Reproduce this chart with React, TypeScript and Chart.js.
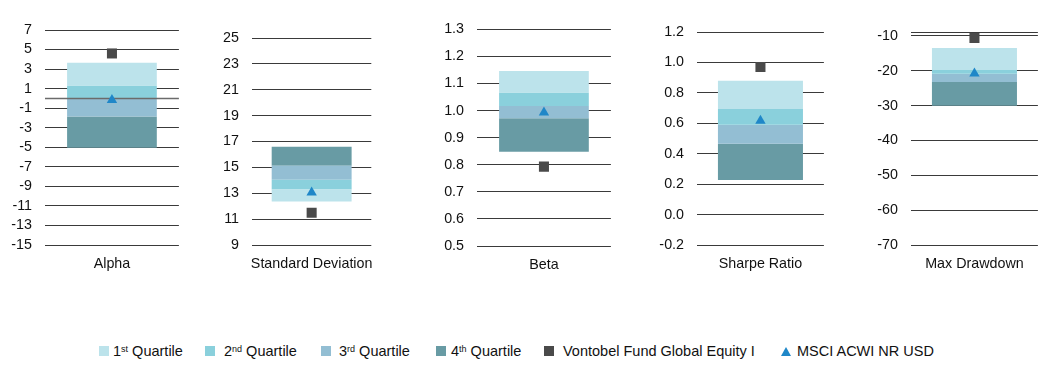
import React, { useEffect, useRef } from 'react';
import { Chart, registerables } from 'chart.js';

Chart.register(...registerables);

// ---------- DATA ----------
const metrics = ['Alpha', 'Standard Deviation', 'Beta', 'Sharpe Ratio', 'Max Drawdown'];
// quartile bands [low, high] per metric
const q1Ranges = [[1.33, 3.65], [12.36, 13.29], [1.067, 1.146], [0.695, 0.88], [-19.8, -13.5]];
const q2Ranges = [[0.0, 1.33], [13.29, 14.05], [1.017, 1.067], [0.591, 0.695], [-20.9, -19.8]];
const q3Ranges = [[-1.85, 0.0], [14.05, 15.13], [0.972, 1.017], [0.466, 0.591], [-23.2, -20.9]];
const q4Ranges = [[-5.05, -1.85], [15.13, 16.6], [0.848, 0.972], [0.228, 0.466], [-30, -23.2]];
const fundValues = [4.6, 11.5, 0.793, 0.97, -10.6];
const benchmarkValues = [-0.15, 13.05, 0.993, 0.618, -20.8];
// y-axis tick values per metric
const alphaTicks = [7, 5, 3, 1, -1, -3, -5, -7, -9, -11, -13, -15];
const stdDevTicks = [25, 23, 21, 19, 17, 15, 13, 11, 9];
const betaTicks = [1.3, 1.2, 1.1, 1.0, 0.9, 0.8, 0.7, 0.6, 0.5];
const sharpeTicks = [1.2, 1.0, 0.8, 0.6, 0.4, 0.2, 0.0, -0.2];
const drawdownTicks = [-9, -10, -20, -30, -40, -50, -60, -70];
const tickSets = [alphaTicks, stdDevTicks, betaTicks, sharpeTicks, drawdownTicks];
const tickDecimals = [0, 0, 1, 1, 0];
const unlabeledTicks = [[], [], [], [], [-9]];
const seriesNames = ['1st Quartile', '2nd Quartile', '3rd Quartile', '4th Quartile', 'Vontobel Fund Global Equity I', 'MSCI ACWI NR USD'];

// ---------- STYLE / LAYOUT ----------
const C_Q1 = '#bce3eb';
const C_Q2 = '#8ad0dc';
const C_Q3 = '#93bed3';
const C_Q4 = '#689ba4';
const C_FUND = '#4a4a4a';
const C_BENCH = '#1f87c8';
const FONT = "'Liberation Sans', Arial, sans-serif";
const TICK_SIZE = 14.3;

const gridLeft = [45, 252, 477, 697, 911];
const gridRight = [182, 382, 614, 827, 1041];
const gridTop = [30, 38, 29.3, 32, 32.3];
const gridBottom = [245, 245, 246, 245.3, 245.3];
const YW = 44;
const CANVAS_H = 290;
const XPAD = 10;
const X_AXIS_H = TICK_SIZE * 1.2 + XPAD + 10;

const zeroLinePlugin = {
  id: 'zeroLine',
  afterDatasetDraw(chart: any, args: any) {
    if (!chart.options.plugins.zeroLine || !chart.options.plugins.zeroLine.enabled) return;
    if (args.index !== 2) return;
    const y = Math.round(chart.scales.y.getPixelForValue(0)) + 0.5;
    const ctx = chart.ctx;
    ctx.save();
    ctx.strokeStyle = '#6b6b6b';
    ctx.lineWidth = 1.5;
    ctx.beginPath();
    ctx.moveTo(chart.chartArea.left, y);
    ctx.lineTo(chart.chartArea.right, y);
    ctx.stroke();
    ctx.restore();
  },
};

function Panel({ i }: { i: number }) {
  const ref = useRef<HTMLCanvasElement>(null);
  const width = YW + (gridRight[i] - gridLeft[i]) + 4;
  useEffect(() => {
    if (!ref.current) return;
    const ticks = tickSets[i];
    const chart = new Chart(ref.current, {
      type: 'bar',
      data: {
        labels: [metrics[i]],
        datasets: [
          {
            type: 'line',
            label: seriesNames[5],
            data: [benchmarkValues[i]],
            showLine: false,
            pointStyle: 'triangle',
            pointRadius: 6,
            pointBackgroundColor: C_BENCH,
            pointBorderWidth: 0,
            order: 0,
          } as any,
          {
            type: 'line',
            label: seriesNames[4],
            data: [fundValues[i]],
            showLine: false,
            pointStyle: 'rect',
            pointRadius: 7.1,
            pointBackgroundColor: C_FUND,
            pointBorderWidth: 0,
            order: 0,
          } as any,
          { label: seriesNames[0], data: [q1Ranges[i]], backgroundColor: C_Q1, order: 1 } as any,
          { label: seriesNames[1], data: [q2Ranges[i]], backgroundColor: C_Q2, order: 1 } as any,
          { label: seriesNames[2], data: [q3Ranges[i]], backgroundColor: C_Q3, order: 1 } as any,
          { label: seriesNames[3], data: [q4Ranges[i]], backgroundColor: C_Q4, order: 1 } as any,
        ],
      },
      options: {
        animation: false,
        responsive: false,
        maintainAspectRatio: false,
        devicePixelRatio: 1,
        layout: {
          padding: {
            top: gridTop[i],
            bottom: CANVAS_H - gridBottom[i] - X_AXIS_H,
            left: 0,
            right: 4,
          },
        },
        datasets: {
          bar: {
            grouped: false,
            categoryPercentage: 1,
            barPercentage: 0.67,
            borderWidth: 0,
          },
        } as any,
        scales: {
          x: {
            grid: { display: false, drawTicks: false },
            border: { display: false },
            ticks: {
              padding: XPAD,
              color: '#111',
              font: { family: FONT, size: TICK_SIZE },
              maxRotation: 0,
              autoSkip: false,
            },
          },
          y: {
            min: ticks[ticks.length - 1],
            max: ticks[0],
            afterBuildTicks: (scale: any) => {
              scale.ticks = ticks.slice().reverse().map((v) => ({ value: v }));
            },
            afterFit: (scale: any) => {
              scale.width = YW;
            },
            grid: { color: '#3a3a3a', lineWidth: 1, drawTicks: false },
            border: { display: false },
            ticks: {
              padding: 13,
              color: '#111',
              font: { family: FONT, size: TICK_SIZE },
              autoSkip: false,
              callback: (v: any) =>
                unlabeledTicks[i].includes(Number(v)) ? '' : Number(v).toFixed(tickDecimals[i]),
            },
          },
        },
        plugins: {
          legend: { display: false },
          tooltip: { enabled: false },
          zeroLine: { enabled: i === 0 },
        } as any,
      },
      plugins: [zeroLinePlugin],
    });
    return () => chart.destroy();
  }, [i]);
  return (
    <canvas
      ref={ref}
      width={width}
      height={CANVAS_H}
      style={{ position: 'absolute', left: gridLeft[i] - YW, top: 0, width, height: CANVAS_H }}
    />
  );
}

const legendItems = [
  { swatch: C_Q1, kind: 'sq', x: 99, tx: 113, main: '1', sup: 'st', rest: ' Quartile' },
  { swatch: C_Q2, kind: 'sq', x: 205, tx: 224, main: '2', sup: 'nd', rest: ' Quartile' },
  { swatch: C_Q3, kind: 'sq', x: 321, tx: 339, main: '3', sup: 'rd', rest: ' Quartile' },
  { swatch: C_Q4, kind: 'sq', x: 436, tx: 451, main: '4', sup: 'th', rest: ' Quartile' },
  { swatch: C_FUND, kind: 'sq', x: 544, tx: 563, main: seriesNames[4], sup: '', rest: '' },
  { swatch: C_BENCH, kind: 'tri', x: 781, tx: 797, main: seriesNames[5], sup: '', rest: '' },
];

export default function App() {
  return (
    <div style={{ position: 'absolute', left: 0, top: 0, width: 1057, height: 388, background: '#fff', fontFamily: FONT }}>
      {[0, 1, 2, 3, 4].map((i) => (
        <Panel key={i} i={i} />
      ))}
      {legendItems.map((it, k) => (
        <React.Fragment key={k}>
          {it.kind === 'sq' ? (
            <div style={{ position: 'absolute', left: it.x, top: 346, width: 10, height: 10, background: it.swatch }} />
          ) : (
            <div
              style={{
                position: 'absolute',
                left: it.x,
                top: 347,
                width: 0,
                height: 0,
                borderLeft: '5px solid transparent',
                borderRight: '5px solid transparent',
                borderBottom: '9px solid ' + it.swatch,
              }}
            />
          )}
          <div
            style={{
              position: 'absolute',
              left: it.tx,
              top: 343,
              fontSize: 14.5,
              lineHeight: '17px',
              color: '#111',
              whiteSpace: 'nowrap',
            }}
          >
            {it.main}
            {it.sup ? <sup style={{ fontSize: 9, verticalAlign: 'top', lineHeight: '10px', position: 'relative', top: 1 }}>{it.sup}</sup> : null}
            {it.rest}
          </div>
        </React.Fragment>
      ))}
    </div>
  );
}
